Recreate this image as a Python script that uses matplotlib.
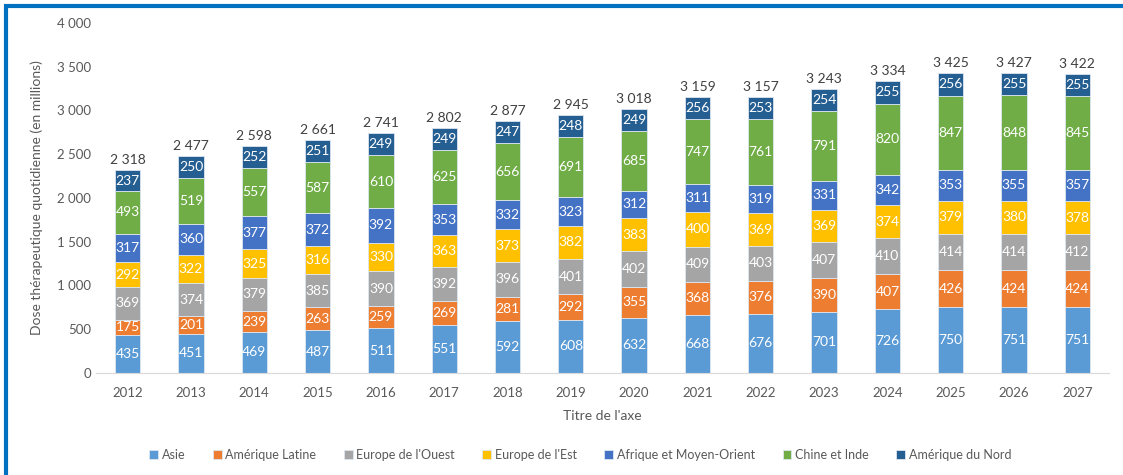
import matplotlib.pyplot as plt
import numpy as np
from matplotlib.patches import Rectangle
from matplotlib.ticker import FuncFormatter

plt.rcParams['font.family'] = ['Lato', 'DejaVu Sans']

years = ['2012', '2013', '2014', '2015', '2016', '2017', '2018', '2019',
         '2020', '2021', '2022', '2023', '2024', '2025', '2026', '2027']

asie = [435, 451, 469, 487, 511, 551, 592, 608, 632, 668, 676, 701, 726, 750, 751, 751]
amerique_latine = [175, 201, 239, 263, 259, 269, 281, 292, 355, 368, 376, 390, 407, 426, 424, 424]
europe_ouest = [369, 374, 379, 385, 390, 392, 396, 401, 402, 409, 403, 407, 410, 414, 414, 412]
europe_est = [292, 322, 325, 316, 330, 363, 373, 382, 383, 400, 369, 369, 374, 379, 380, 378]
afrique_mo = [317, 360, 377, 372, 392, 353, 332, 323, 312, 311, 319, 331, 342, 353, 355, 357]
chine_inde = [493, 519, 557, 587, 610, 625, 656, 691, 685, 747, 761, 791, 820, 847, 848, 845]
amerique_nord = [237, 250, 252, 251, 249, 249, 247, 248, 249, 256, 253, 254, 255, 256, 255, 255]

series = [
    ("Asie", asie, '#5B9BD5'),
    ("Amérique Latine", amerique_latine, '#ED7D31'),
    ("Europe de l'Ouest", europe_ouest, '#A5A5A5'),
    ("Europe de l'Est", europe_est, '#FFC000'),
    ("Afrique et Moyen-Orient", afrique_mo, '#4472C4'),
    ("Chine et Inde", chine_inde, '#70AD47'),
    ("Amérique du Nord", amerique_nord, '#255E91'),
]

def fmt(v):
    return f"{int(v):,}".replace(",", " ")

grey = '#595959'
fig = plt.figure(figsize=(11.23, 4.75), dpi=100)
ax = fig.add_axes([0.0855, 0.2147, 0.902, 0.737])

x = np.arange(len(years))
bottom = np.zeros(len(years))
for name, vals, col in series:
    vals = np.array(vals)
    ax.bar(x, vals, 0.4, bottom=bottom, color=col, label=name,
           edgecolor='#dde6f0', linewidth=0.6)
    for xi, b, v in zip(x, bottom, vals):
        ax.text(xi, b + v / 2, str(v), ha='center', va='center',
                color='white', fontsize=10)
    bottom += vals

for xi, t in zip(x, bottom):
    ax.text(xi, t + 45, fmt(t), ha='center', va='bottom', color='#404040', fontsize=10)

ax.set_xlim(-0.5, len(years) - 0.5)
ax.set_ylim(0, 4000)
ax.set_yticks(range(0, 4001, 500))
ax.yaxis.set_major_formatter(FuncFormatter(lambda v, p: fmt(v)))
ax.set_xticks(x)
ax.set_xticklabels(years)
ax.tick_params(axis='both', length=0, colors=grey, labelsize=9.5)
ax.tick_params(axis='x', pad=10)
for s in ['top', 'right', 'left']:
    ax.spines[s].set_visible(False)
ax.spines['bottom'].set_color('#d9d9d9')

ax.set_xlabel("Titre de l'axe", color=grey, fontsize=10, labelpad=8)
ax.set_ylabel("Dose thérapeutique quotidienne (en millions)", color=grey, fontsize=10, labelpad=10)

leg = ax.legend(loc='upper center', bbox_to_anchor=(0.478, -0.185), ncol=7, frameon=False,
                fontsize=9, handlelength=0.7, handleheight=0.7, handletextpad=0.3,
                columnspacing=2.2)
for t in leg.get_texts():
    t.set_color(grey)

fig.patches.append(Rectangle((6 / 1123, -0.2), 1.2, 1.2 - 5.5 / 475, transform=fig.transFigure,
                             fill=False, edgecolor='#0070C0', linewidth=3))

fig.savefig('out.png', dpi=100)
